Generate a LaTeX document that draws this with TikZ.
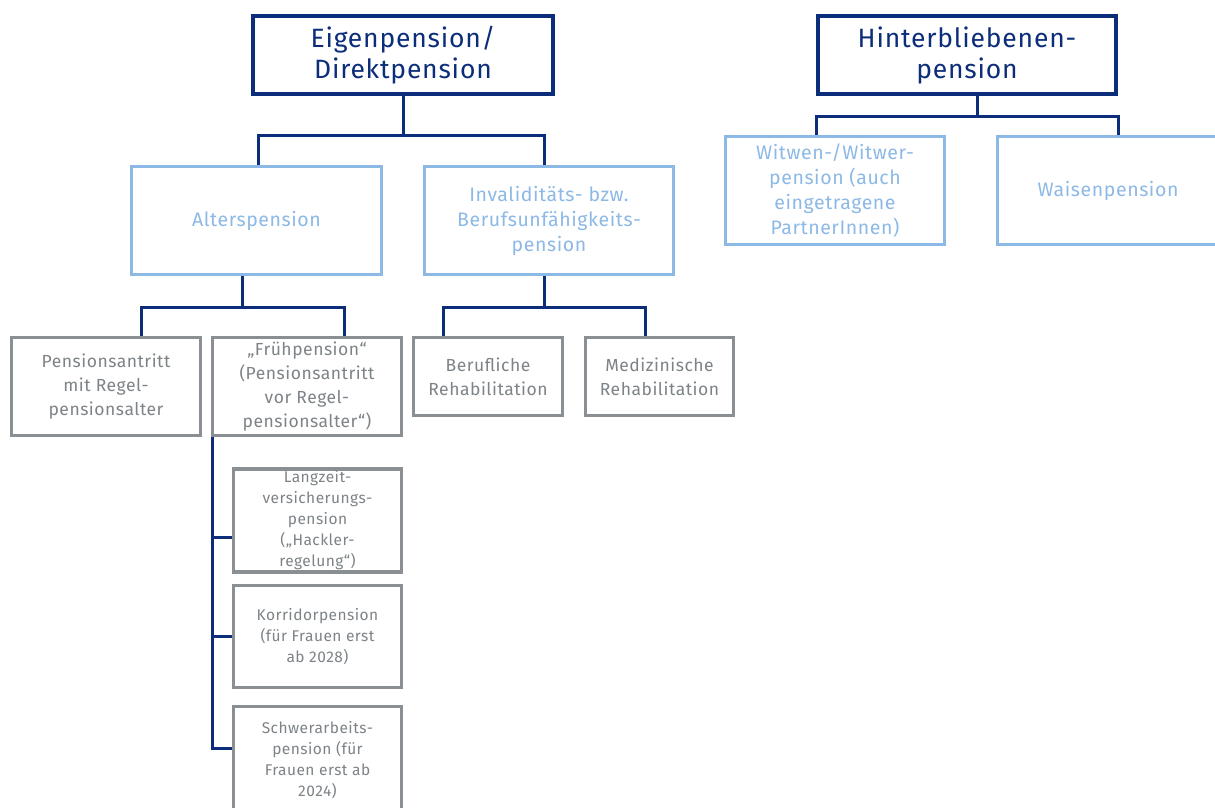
\documentclass[tikz,border=0pt]{standalone}
\usepackage{fontspec}
\setmainfont{Fira Sans}[LetterSpace=3]
\definecolor{darkblue}{RGB}{12,45,122}
\definecolor{lightblue}{RGB}{141,185,230}
\definecolor{greyline}{RGB}{137,143,147}
\definecolor{greytext}{RGB}{125,131,135}
\tikzset{
  mainbox/.style={draw=darkblue, line width=4pt, fill=white, text=darkblue, align=center,
    inner sep=0pt, font=\fontsize{26.5}{31}\selectfont},
  typebox/.style={draw=lightblue, line width=3pt, fill=white, text=lightblue, align=center,
    inner sep=0pt, font=\fontsize{19.5}{25}\selectfont},
  subbox/.style={draw=greyline, line width=3.5pt, fill=white, text=greytext, align=center,
    inner sep=0pt, font=\fontsize{17.5}{24}\selectfont},
  smallbox/.style={subbox, font=\fontsize{15.5}{21}\selectfont},
  link/.style={draw=darkblue, line width=3pt}
}
\begin{document}
\begin{tikzpicture}[x=1pt, y=-1pt]
\useasboundingbox (0,0) rectangle (1215,808);
\clip (0,0) rectangle (1215,808);

% Top level
\node[mainbox, minimum width=300pt, minimum height=78pt] (eigen) at (403,55) {Eigenpension/\\Direktpension};
\node[mainbox, minimum width=298pt, minimum height=78pt] (hinter) at (967,55) {Hinterbliebenen-\\pension};

% Pension types
\node[typebox, minimum width=250pt, minimum height=108pt] (alters) at (256.5,220.5) {Alterspension};
\node[typebox, minimum width=249pt, minimum height=108pt] (invalid) at (549,220.5) {Invaliditäts- bzw.\\Berufsunfähigkeits-\\pension};
\node[typebox, minimum width=219pt, minimum height=108pt] (witwen) at (835,190.5) {Witwen-/Witwer-\\pension (auch\\eingetragene\\PartnerInnen)};
\node[typebox, minimum width=221pt, minimum height=108pt] (waisen) at (1108,190.5) {Waisenpension};

% Sub types
\node[subbox, minimum width=189pt, minimum height=98pt] (pens) at (106,386.5) {Pensionsantritt\\mit Regel-\\pensionsalter};
\node[subbox, minimum width=189pt, minimum height=98pt] (frueh) at (307,386.5) {„Frühpension“\\(Pensionsantritt\\vor Regel-\\pensionsalter“)};
\node[subbox, minimum width=149pt, minimum height=78pt] (beruf) at (488,376.5) {Berufliche\\Rehabilitation};
\node[subbox, minimum width=148pt, minimum height=78pt] (mediz) at (659.5,376.5) {Medizinische\\Rehabilitation};

% Early pension variants
\node[smallbox, minimum width=168pt, minimum height=103pt] (langzeit) at (317.5,520.5) {Langzeit-\\versicherungs-\\pension\\(„Hackler-\\regelung“)};
\node[smallbox, minimum width=168pt, minimum height=102pt] (korridor) at (317.5,636.5) {Korridorpension\\(für Frauen erst\\ab 2028)};
\node[smallbox, minimum width=168pt, minimum height=107pt] (schwer) at (317.5,760) {Schwerarbeits-\\pension (für\\Frauen erst ab\\2024)};

% Connectors
\draw[link] (eigen.south) -- ++(0,39) coordinate (eigenbar) -| ([xshift=1.5pt]alters.north);
\draw[link] (eigenbar) -| ([xshift=-5pt]invalid.north);

\draw[link] ([xshift=10pt]hinter.south) -- ++(0,20) coordinate (hinterbar) -| ([xshift=-19pt]witwen.north);
\draw[link] (hinterbar) -| ([xshift=10pt]waisen.north);

\draw[link] ([xshift=-14.5pt]alters.south) -- ++(0,31) coordinate (altersbar) -| ([xshift=35pt]pens.north);
\draw[link] (altersbar) -| ([xshift=37pt]frueh.north);

\draw[link] ([xshift=-5pt]invalid.south) -- ++(0,31) coordinate (invbar) -| ([xshift=-45pt]beruf.north);
\draw[link] (invbar) -| ([xshift=-14.5pt]mediz.north);

\coordinate (fruehline) at ([xshift=1.5pt]frueh.south west);
\draw[link] (fruehline) |- ([yshift=12pt]schwer.west);
\draw[link] (fruehline) |- ([yshift=-17pt]langzeit.west);
\draw[link] (fruehline) |- (korridor.west);
\end{tikzpicture}
\end{document}
